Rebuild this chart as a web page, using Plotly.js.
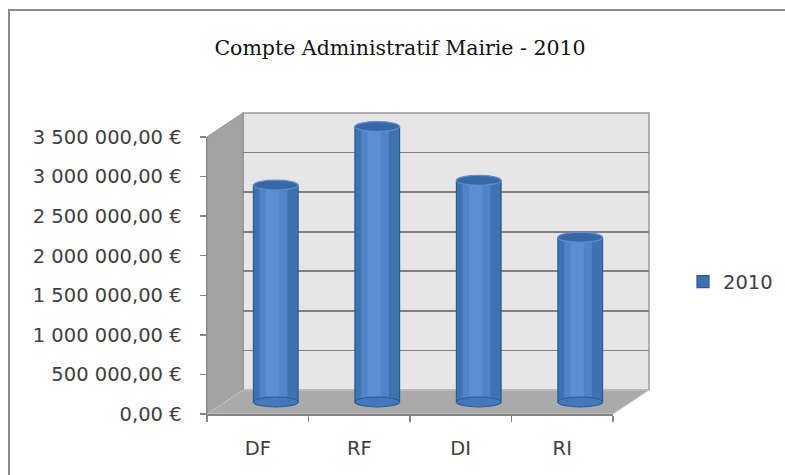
<!DOCTYPE html>
<html>
<head>
<meta charset="utf-8">
<script src="https://cdn.plot.ly/plotly-3.0.1.min.js"></script>
<style>
html,body{margin:0;padding:0;background:#fff;}
#chart{width:785px;height:475px;}
</style>
</head>
<body>
<div id="chart"></div>
<script>
// ---- data ----
const categories = ['DF', 'RF', 'DI', 'RI'];
const values2010 = [2740000, 3480000, 2800000, 2080000];
const seriesName = '2010';
const yTickVals = [0, 500000, 1000000, 1500000, 2000000, 2500000, 3000000, 3500000];
const yTickText = ['0,00 €', '500 000,00 €', '1 000 000,00 €', '1 500 000,00 €',
                   '2 000 000,00 €', '2 500 000,00 €', '3 000 000,00 €', '3 500 000,00 €'];
const chartTitle = 'Compte Administratif Mairie - 2010';

// ---- geometry helpers (pixels -> paper) ----
const W = 785, H = 475;
const px = v => v / W;
const py = v => 1 - v / H;
const yMax = 3500000;
const unitsPerPx = yMax / 277;

// planes: front (axes + labels), middle (bars), back (wall + grid)
const front = {x0: 207, x1: 613, yb: 414, yt: 137};
const mid   = {x0: 225, x1: 631, yb: 402, yt: 125};
const back  = {x0: 243, x1: 649, yb: 390, yt: 113};
const midPadB = 9;  // px below bar baseline so the rounded bottom is visible
const midPadT = 12; // px above top so the rounded top is not clipped

const sans = '"DejaVu Sans", Verdana, sans-serif';
const tickFont = {family: sans, size: 19.5, color: '#404040'};
const barW = 0.44;
const ellH = 5 * unitsPerPx;

const traces = [
  // back wall (gridlines only)
  {type: 'scatter', mode: 'markers', x: categories, y: values2010,
   marker: {opacity: 0}, xaxis: 'x', yaxis: 'y', showlegend: false, hoverinfo: 'skip'},
  // bars in middle plane (cylinder body with a lighter core)
  {type: 'bar', name: seriesName, x: categories, y: values2010, width: barW,
   xaxis: 'x2', yaxis: 'y2',
   marker: {color: '#3f72b3', line: {color: '#2b5a95', width: 1.2}}},
  {type: 'bar', name: seriesName, x: categories, y: values2010, width: barW * 0.62,
   offset: -barW * 0.36, xaxis: 'x2', yaxis: 'y2', showlegend: false, hoverinfo: 'skip',
   marker: {color: '#4f85c8', line: {width: 0}}},
  {type: 'bar', name: seriesName, x: categories, y: values2010, width: barW * 0.3,
   offset: -barW * 0.22, xaxis: 'x2', yaxis: 'y2', showlegend: false, hoverinfo: 'skip',
   marker: {color: '#5a90d2', line: {width: 0}}},
  // front axis labels
  {type: 'scatter', mode: 'markers', x: categories, y: values2010,
   marker: {opacity: 0}, xaxis: 'x3', yaxis: 'y3', showlegend: false, hoverinfo: 'skip'}
];

// cylinder ends built from the data through the bar axes
const capShapes = [];
values2010.forEach((v, i) => {
  capShapes.push({type: 'circle', xref: 'x2', yref: 'y2', layer: 'above',
    x0: i - barW / 2, x1: i + barW / 2, y0: -ellH, y1: ellH,
    fillcolor: '#4379bb', line: {color: '#2b5a95', width: 1.2}});
  capShapes.push({type: 'circle', xref: 'x2', yref: 'y2', layer: 'above',
    x0: i - barW / 2, x1: i + barW / 2, y0: v - ellH, y1: v + ellH,
    fillcolor: '#3767a6', line: {color: '#5f8fcf', width: 1.2}});
});

const hidden = {visible: true, showgrid: false, zeroline: false, showline: false,
  showticklabels: false, ticks: ''};

const layout = {
  width: W, height: H,
  margin: {l: 0, r: 0, t: 0, b: 0},
  paper_bgcolor: '#ffffff',
  plot_bgcolor: 'rgba(0,0,0,0)',
  barmode: 'overlay',
  title: {text: chartTitle, x: px(400), xanchor: 'center', y: py(48), yanchor: 'middle',
    font: {family: '"DejaVu Serif", "Liberation Serif", serif', size: 20.5, color: '#111111'}},
  showlegend: true,
  legend: {x: px(683), xanchor: 'left', y: py(282), yanchor: 'middle',
    font: {family: sans, size: 19.5, color: '#404040'},
    bgcolor: 'rgba(0,0,0,0)', itemwidth: 30},
  // back wall
  xaxis: Object.assign({}, hidden, {domain: [px(back.x0), px(back.x1)], anchor: 'y',
    type: 'category', range: [-0.5, categories.length - 0.5]}),
  yaxis: {domain: [py(back.yb), py(back.yt)], anchor: 'x', range: [0, yMax],
    tickvals: yTickVals, showgrid: true, gridcolor: '#808080', gridwidth: 1.6,
    zeroline: false, showline: false, showticklabels: false, ticks: ''},
  // bars
  xaxis2: Object.assign({}, hidden, {domain: [px(mid.x0), px(mid.x1)], anchor: 'y2',
    type: 'category', range: [-0.5, categories.length - 0.5]}),
  yaxis2: Object.assign({}, hidden, {domain: [py(mid.yb + midPadB), py(mid.yt - midPadT)], anchor: 'x2',
    range: [-midPadB * unitsPerPx, yMax + midPadT * unitsPerPx]}),
  // front axes
  xaxis3: {domain: [px(front.x0), px(front.x1)], anchor: 'y3', type: 'category',
    range: [-0.5, categories.length - 0.5], tickson: 'boundaries',
    ticks: 'outside', ticklen: 6, tickcolor: '#868686', tickwidth: 1.5,
    showline: true, linecolor: '#868686', linewidth: 1.5, showgrid: false, zeroline: false,
    tickfont: tickFont, ticklabelstandoff: 16},
  yaxis3: {domain: [py(front.yb), py(front.yt)], anchor: 'x3', range: [0, yMax],
    tickvals: yTickVals, ticktext: yTickText,
    ticks: 'outside', ticklen: 6, tickcolor: '#868686', tickwidth: 1.5,
    showline: true, linecolor: '#868686', linewidth: 1.5, showgrid: false, zeroline: false,
    tickfont: tickFont, ticklabelstandoff: 14},
  shapes: [
    // outer chart border
    {type: 'rect', xref: 'paper', yref: 'paper', x0: px(9), x1: px(790), y0: py(480), y1: py(10),
     line: {color: '#8a8a8a', width: 2}, fillcolor: 'rgba(0,0,0,0)', layer: 'above'},
    // back wall
    {type: 'rect', xref: 'paper', yref: 'paper', layer: 'below',
     x0: px(back.x0), x1: px(back.x1), y0: py(back.yb), y1: py(back.yt),
     fillcolor: '#e6e6e6', line: {color: '#9a9a9a', width: 1.5}},
    // left wall
    {type: 'path', xref: 'paper', yref: 'paper', layer: 'below',
     path: `M ${px(front.x0)} ${py(front.yt)} L ${px(back.x0)} ${py(back.yt)} L ${px(back.x0)} ${py(back.yb)} L ${px(front.x0)} ${py(front.yb)} Z`,
     fillcolor: '#a3a3a3', line: {color: '#8e8e8e', width: 1}},
    // floor
    {type: 'path', xref: 'paper', yref: 'paper', layer: 'below',
     path: `M ${px(front.x0)} ${py(front.yb)} L ${px(back.x0)} ${py(back.yb)} L ${px(back.x1)} ${py(back.yb)} L ${px(front.x1)} ${py(front.yb)} Z`,
     fillcolor: '#aaaaaa', line: {color: '#c8c8c8', width: 1}}
  ].concat(capShapes)
};

Plotly.newPlot('chart', traces, layout, {staticPlot: true, displayModeBar: false});
</script>
</body>
</html>
